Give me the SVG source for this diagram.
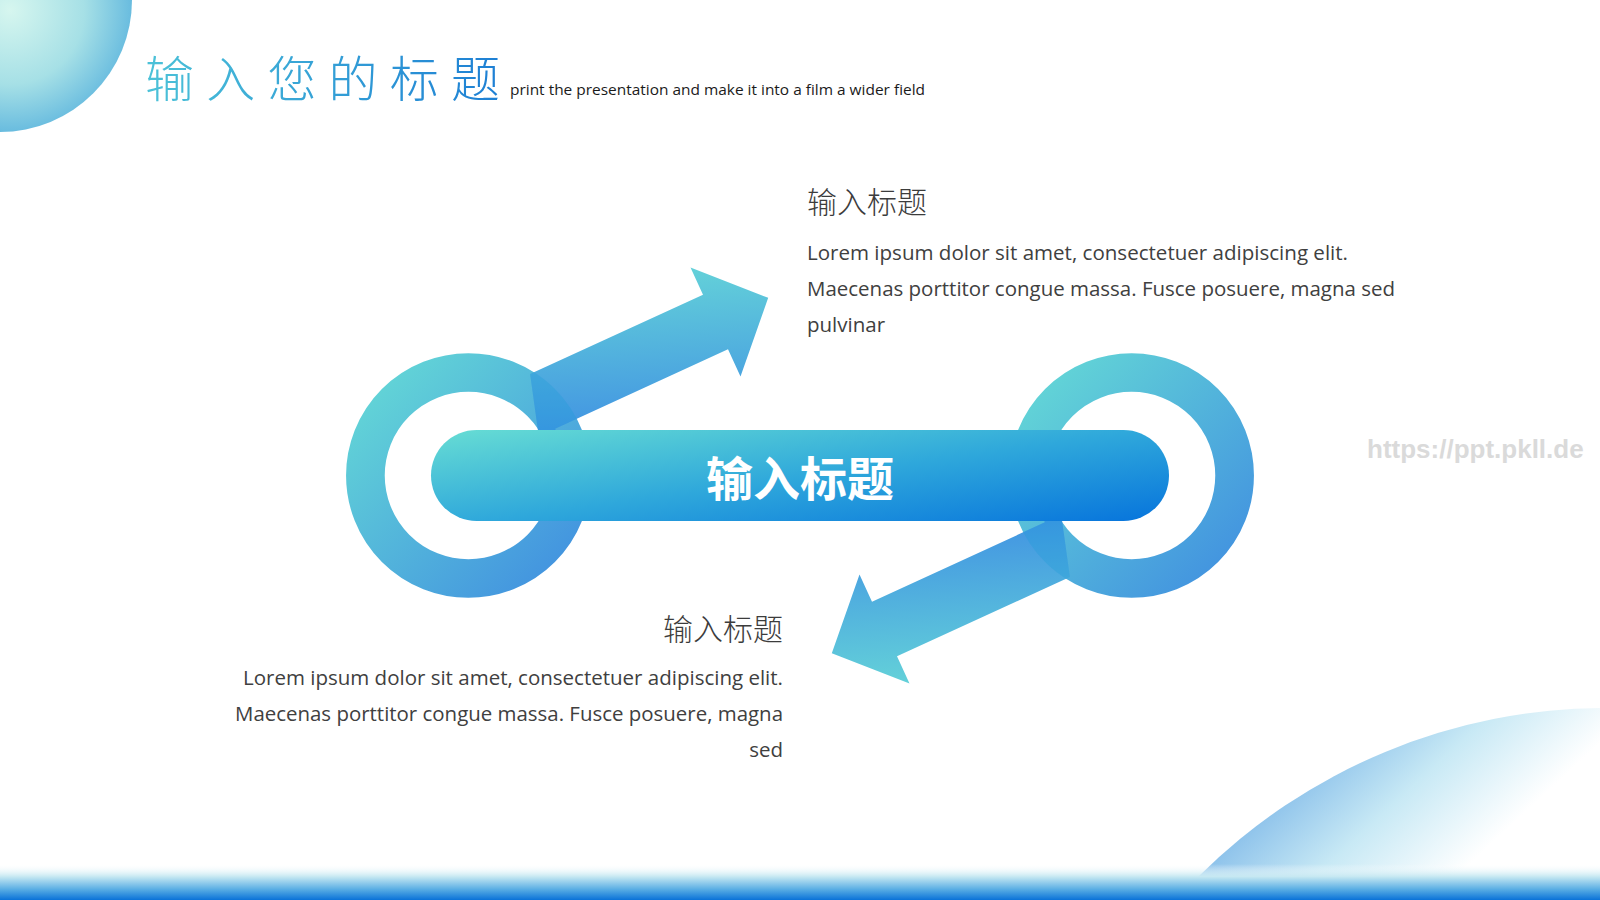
<svg xmlns="http://www.w3.org/2000/svg" xmlns:xlink="http://www.w3.org/1999/xlink" width="1600" height="900" viewBox="0 0 1600 900">
  <defs>
    <style>
      .cn { font-family: "Noto Sans CJK SC", "Noto Sans", sans-serif; }
      .body { font-family: "Open Sans", "Noto Sans", "Liberation Sans", sans-serif; font-size: 20.5px; fill: #404040; }
      .head { font-family: "Noto Sans CJK SC", sans-serif; font-size: 30px; font-weight: 300; fill: #3c3c3c; }
      .ring { fill: none; stroke-width: 38.7; }
    </style>
    <radialGradient id="gTL" cx="10" cy="10" r="135" gradientUnits="userSpaceOnUse">
      <stop offset="0" stop-color="#d6f6ef"/>
      <stop offset="0.55" stop-color="#a6e0e6"/>
      <stop offset="1" stop-color="#58b2dd"/>
    </radialGradient>
    <linearGradient id="gTitle" x1="0" y1="0" x2="1" y2="0">
      <stop offset="0" stop-color="#4cc2d8"/>
      <stop offset="1" stop-color="#1c7dd4"/>
    </linearGradient>
    <linearGradient id="gBR" x1="1290" y1="770" x2="1420" y2="910" gradientUnits="userSpaceOnUse">
      <stop offset="0" stop-color="#84bce9"/>
      <stop offset="0.5" stop-color="#c8e9f5"/>
      <stop offset="1" stop-color="#ffffff"/>
    </linearGradient>
    <linearGradient id="gBand" x1="0" y1="864" x2="0" y2="900" gradientUnits="userSpaceOnUse">
      <stop offset="0" stop-color="#ffffff" stop-opacity="0"/>
      <stop offset="0.35" stop-color="#c6e8f2"/>
      <stop offset="0.7" stop-color="#5aaee4"/>
      <stop offset="1" stop-color="#0a72d8"/>
    </linearGradient>
    <linearGradient id="gBar" x1="431" y1="432" x2="456.6" y2="619.7" gradientUnits="userSpaceOnUse">
      <stop offset="0" stop-color="#66dcd4"/>
      <stop offset="0.5" stop-color="#2fa8db"/>
      <stop offset="1" stop-color="#0673dc"/>
    </linearGradient>
    <linearGradient id="gRing" x1="0" y1="0" x2="1" y2="1">
      <stop offset="0" stop-color="#64d8d6"/>
      <stop offset="1" stop-color="#4190e0"/>
    </linearGradient>
    <linearGradient id="gArrow" x1="680" y1="255" x2="690" y2="420" gradientUnits="userSpaceOnUse">
      <stop offset="0" stop-color="#66d6d8"/>
      <stop offset="1" stop-color="#4396e2"/>
    </linearGradient>
    <polygon id="arrowShape" points="530.1,374.1 703,294.7 690.5,267.5 768.2,297.8 740.5,376.5 728,349.3 555.1,428.7 560,440 540,445"/>
    <clipPath id="clipArrow">
      <use xlink:href="#arrowShape"/>
    </clipPath>
  </defs>

  <rect width="1600" height="900" fill="#ffffff"/>

  <g id="corner-top-left">
    <circle cx="0" cy="0" r="132" fill="url(#gTL)"/>
  </g>

  <g id="corner-bottom-right">
    <circle cx="1606" cy="1285" r="577" fill="url(#gBR)"/>
  </g>

  <g id="bottom-band">
    <rect x="0" y="864" width="1600" height="36" fill="url(#gBand)"/>
  </g>

  <g id="page-title">
    <text class="cn" x="145" y="97" font-size="49" font-weight="300" letter-spacing="12.2" fill="url(#gTitle)">输入您的标题</text>
    <text x="510" y="95" font-family="Open Sans, Liberation Sans, sans-serif" font-size="15" fill="#1a1a1a" textLength="415" lengthAdjust="spacingAndGlyphs">print the presentation and make it into a film a wider field</text>
  </g>

  <g id="ring-left">
    <circle class="ring" cx="468.4" cy="475.5" r="103" stroke="url(#gRing)"/>
  </g>
  <g id="ring-right">
    <circle class="ring" cx="1131.6" cy="475.5" r="103" stroke="url(#gRing)"/>
  </g>

  <g id="connectors">
    <g id="arrow-up">
      <use xlink:href="#arrowShape" fill="url(#gArrow)"/>
      <g clip-path="url(#clipArrow)">
        <circle cx="468.4" cy="475.5" r="103" fill="none" stroke="#1a9ad8" stroke-opacity="0.3" stroke-width="38.7"/>
      </g>
    </g>
    <g id="arrow-down" transform="rotate(180 800 475.5)">
      <use xlink:href="#arrowShape" fill="url(#gArrow)"/>
      <g clip-path="url(#clipArrow)">
        <circle cx="468.4" cy="475.5" r="103" fill="none" stroke="#1a9ad8" stroke-opacity="0.3" stroke-width="38.7"/>
      </g>
    </g>
  </g>

  <g id="center-bar">
    <rect x="431" y="430" width="738" height="91" rx="45.5" ry="45.5" fill="url(#gBar)"/>
    <text class="cn" x="800" y="496" font-size="47" font-weight="700" fill="#ffffff" text-anchor="middle">输入标题</text>
  </g>

  <g id="text-top">
    <text class="head" x="807" y="213">输入标题</text>
    <text class="body" x="807" y="260" textLength="541" lengthAdjust="spacingAndGlyphs">Lorem ipsum dolor sit amet, consectetuer adipiscing elit.</text>
    <text class="body" x="807" y="296" textLength="588" lengthAdjust="spacingAndGlyphs">Maecenas porttitor congue massa. Fusce posuere, magna sed</text>
    <text class="body" x="807" y="332">pulvinar</text>
  </g>

  <g id="text-bottom">
    <text class="head" x="783" y="640" text-anchor="end">输入标题</text>
    <text class="body" x="783" y="684.5" text-anchor="end" textLength="540" lengthAdjust="spacingAndGlyphs">Lorem ipsum dolor sit amet, consectetuer adipiscing elit.</text>
    <text class="body" x="783" y="720.5" text-anchor="end" textLength="548" lengthAdjust="spacingAndGlyphs">Maecenas porttitor congue massa. Fusce posuere, magna</text>
    <text class="body" x="783" y="756.5" text-anchor="end">sed</text>
  </g>

  <g id="watermark">
    <text x="1367" y="458" font-family="Liberation Sans, Arial, sans-serif" font-size="26" font-weight="700" fill="#dadada">https://ppt.pkll.de</text>
  </g>
</svg>
